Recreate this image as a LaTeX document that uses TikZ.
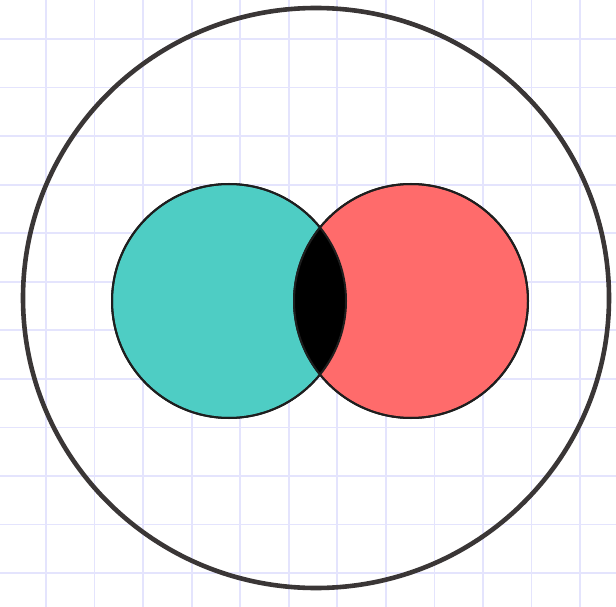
\documentclass[tikz,border=0pt]{standalone}
\definecolor{gridc}{HTML}{E4E4FD}
\definecolor{outer}{HTML}{3A3636}
\definecolor{tealc}{HTML}{4ECDC4}
\definecolor{redc}{HTML}{FF6B6B}
\definecolor{edge}{HTML}{1E1E1E}
\begin{document}
\begin{tikzpicture}[x=1pt,y=-1pt,
  setc/.style={circle,draw=edge,line width=2pt,minimum size=234pt,inner sep=0pt},
  bigc/.style={draw=outer,line width=4.6pt}]
\useasboundingbox (0,0) rectangle (616,607);
\fill[white] (0,0) rectangle (616,607);
\foreach \i in {0,...,12} {
  \draw[gridc,line width=1.8pt] ({46+48.55*\i},0) -- ({46+48.55*\i},607);
  \draw[gridc,line width=1.8pt] (0,{39+48.55*\i}) -- (616,{39+48.55*\i});
}
% outer sketchy circle
\draw[bigc] (316,298) ellipse [x radius=293, y radius=290];
\draw[outer,line width=1.5pt] (316.5,297.5) ellipse [x radius=293.5, y radius=290.5];
% sets
\node[setc,fill=tealc] (A) at (229,301) {};
\node[setc,fill=redc] (B) at (411,301) {};
\begin{scope}
  \clip (229,301) circle (117);
  \fill[black] (411,301) circle (117);
\end{scope}
\draw[edge,line width=2pt] (229,301) circle (117);
\draw[edge,line width=2pt] (411,301) circle (117);
\end{tikzpicture}
\end{document}
